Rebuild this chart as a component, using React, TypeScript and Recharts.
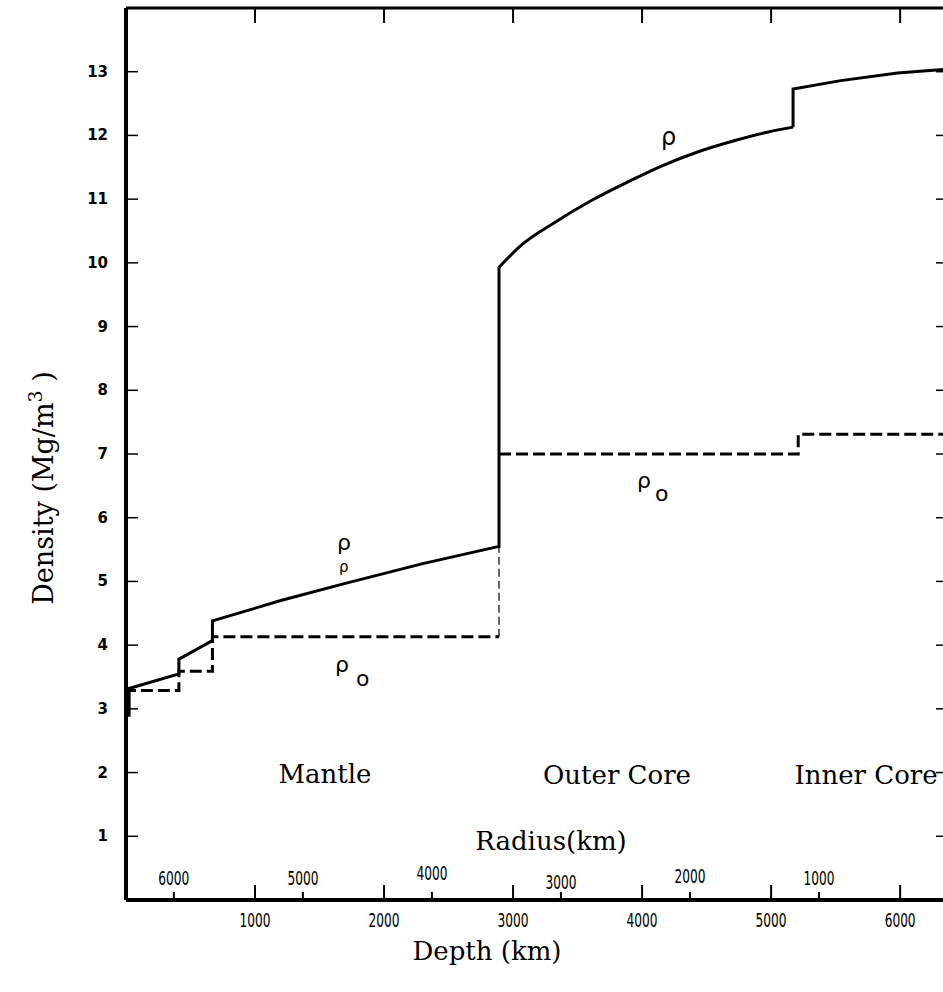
import React from 'react'
import { LineChart, Line, XAxis, YAxis, Customized } from 'recharts'

const EARTH_RADIUS = 6371
const depthTicks = [1000, 2000, 3000, 4000, 5000, 6000]
const radiusTicks = [6000, 5000, 4000, 3000, 2000, 1000]
const densityTicks = [1, 2, 3, 4, 5, 6, 7, 8, 9, 10, 11, 12, 13]

// rho (solid): density vs depth, Mg/m^3
const rhoMantle = [
   { x: 0, y: 2.9 },
   { x: 24, y: 2.9 },
   { x: 24, y: 3.32 },
   { x: 410, y: 3.55 },
   { x: 410, y: 3.78 },
   { x: 670, y: 4.07 },
   { x: 670, y: 4.38 },
   { x: 1200, y: 4.7 },
   { x: 1700, y: 4.97 },
   { x: 2300, y: 5.28 },
   { x: 2891, y: 5.55 },
   { x: 2891, y: 9.93 },
]
const rhoOuterCore = [
   { x: 2891, y: 9.93 },
   { x: 3060, y: 10.27 },
   { x: 3320, y: 10.63 },
   { x: 3600, y: 10.97 },
   { x: 3890, y: 11.27 },
   { x: 4150, y: 11.52 },
   { x: 4430, y: 11.74 },
   { x: 4720, y: 11.92 },
   { x: 4970, y: 12.05 },
   { x: 5170, y: 12.13 },
]
const rhoInnerCore = [
   { x: 5170, y: 12.13 },
   { x: 5170, y: 12.73 },
   { x: 5540, y: 12.86 },
   { x: 5980, y: 12.98 },
   { x: 6371, y: 13.04 },
]

// rho0 (dashed): zero-pressure density
const rho0Mantle = [
   { x: 20, y: 2.95 },
   { x: 20, y: 3.29 },
   { x: 410, y: 3.29 },
   { x: 410, y: 3.59 },
   { x: 670, y: 3.59 },
   { x: 670, y: 4.13 },
   { x: 2891, y: 4.13 },
]
const rho0Link = [
   { x: 2891, y: 4.13 },
   { x: 2891, y: 5.55 },
]
const rho0Core = [
   { x: 2891, y: 7.0 },
   { x: 5210, y: 7.0 },
   { x: 5210, y: 7.31 },
   { x: 6371, y: 7.31 },
]

const bottomTicks = [...depthTicks, ...radiusTicks.map((r) => EARTH_RADIUS - r)]
const radiusDy: Record<number, number> = { 4000: -5, 3000: 4, 2000: -2 }

const serif = 'DejaVu Serif'
const sans = 'DejaVu Sans'

const LeftTick = (props: any) => {
   const { x, y, payload } = props
   return (
      <g>
         <line x1={x} x2={x + 12} y1={y} y2={y} stroke="#000" strokeWidth={1.5} />
         <text x={x - 18} y={y + 5} textAnchor="end" fontFamily={sans} fontWeight="bold" fontSize={15} fill="#000">
            {payload.value}
         </text>
      </g>
   )
}

const RightTick = (props: any) => {
   const { x, y } = props
   return <line x1={x - 12} x2={x} y1={y} y2={y} stroke="#000" strokeWidth={1.5} />
}

const TopTick = (props: any) => {
   const { x, y } = props
   return <line x1={x} x2={x} y1={y} y2={y + 15} stroke="#000" strokeWidth={2} />
}

const BottomTick = (props: any) => {
   const { x, y, payload } = props
   const v = payload.value
   const label = { textAnchor: 'middle' as const, fontFamily: sans, fontSize: 20, textLength: 31, lengthAdjust: 'spacingAndGlyphs', fill: '#000' }
   if (depthTicks.includes(v)) {
      return (
         <g>
            <line x1={x} x2={x} y1={y} y2={y - 15} stroke="#000" strokeWidth={2} />
            <text x={x} y={y + 27} {...label}>{v}</text>
         </g>
      )
   }
   const r = EARTH_RADIUS - v
   return (
      <g>
         <line x1={x} x2={x} y1={y} y2={y - 8} stroke="#000" strokeWidth={2} />
         <text x={x} y={y - 15 + (radiusDy[r] || 0)} {...label}>{r}</text>
      </g>
   )
}

const Labels = () => (
   <g fill="#000">
      <g fontFamily={serif} fontSize={26}>
         <text x={325} y={783} textAnchor="middle">Mantle</text>
         <text x={617} y={784} textAnchor="middle">Outer Core</text>
         <text x={866} y={784} textAnchor="middle">Inner Core</text>
         <text x={551} y={850} textAnchor="middle">Radius(km)</text>
         <text x={487} y={960} textAnchor="middle">Depth (km)</text>
         <text x={53} y={488} textAnchor="middle" fontSize={27} transform="rotate(-90, 53, 488)">
            Density (Mg/m<tspan dy={-11} fontSize={19}>3</tspan>
            <tspan dy={11}> )</tspan>
         </text>
      </g>
      <g fontFamily={sans}>
         <text x={661} y={145} fontSize={24}>ρ</text>
         <text x={337} y={550} fontSize={22}>ρ</text>
         <text x={339} y={572} fontSize={15}>ρ</text>
         <text x={335} y={672} fontSize={22}>ρ</text>
         <text x={356} y={686} fontSize={22}>o</text>
         <text x={637} y={488} fontSize={22}>ρ</text>
         <text x={655} y={501} fontSize={22}>o</text>
      </g>
   </g>
)

const lineStyle = { stroke: '#000', dot: false, isAnimationActive: false, strokeLinejoin: 'miter' as const }

export default function App() {
   return (
      <div style={{ position: 'absolute', left: 0, top: 0, width: 943, height: 992, overflow: 'hidden', background: '#fff' }}>
         <LineChart width={960} height={992} margin={{ top: 7, right: 11, left: 0, bottom: 32 }}>
            <XAxis
               dataKey="x"
               type="number"
               domain={[0, EARTH_RADIUS]}
               ticks={bottomTicks}
               interval={0}
               height={60}
               tickSize={0}
               tickMargin={0}
               tickLine={false}
               tick={<BottomTick />}
               axisLine={{ stroke: '#000', strokeWidth: 4 }}
               allowDataOverflow
            />
            <XAxis
               xAxisId="top"
               orientation="top"
               dataKey="x"
               type="number"
               domain={[0, EARTH_RADIUS]}
               ticks={depthTicks}
               interval={0}
               height={1}
               tickSize={0}
               tickMargin={0}
               tickLine={false}
               tick={<TopTick />}
               axisLine={{ stroke: '#000', strokeWidth: 3 }}
               allowDataOverflow
            />
            <YAxis
               type="number"
               domain={[0, 14]}
               ticks={densityTicks}
               interval={0}
               width={126}
               tickSize={0}
               tickMargin={0}
               tickLine={false}
               tick={<LeftTick />}
               axisLine={{ stroke: '#000', strokeWidth: 4 }}
               allowDataOverflow
            />
            <YAxis
               yAxisId="right"
               orientation="right"
               type="number"
               domain={[0, 14]}
               ticks={densityTicks}
               interval={0}
               width={1}
               tickSize={0}
               tickMargin={0}
               tickLine={false}
               tick={<RightTick />}
               axisLine={{ stroke: '#000', strokeWidth: 3 }}
               allowDataOverflow
            />
            <Line data={rho0Link} xAxisId="top" yAxisId="right" dataKey="y" type="linear" strokeWidth={1.2} strokeDasharray="8 4" {...lineStyle} />
            <Line data={rho0Mantle} dataKey="y" type="linear" strokeWidth={3} strokeDasharray="12 5" {...lineStyle} />
            <Line data={rho0Core} dataKey="y" type="linear" strokeWidth={3} strokeDasharray="12 5" {...lineStyle} />
            <Line data={rhoMantle} dataKey="y" type="linear" strokeWidth={3} {...lineStyle} />
            <Line data={rhoOuterCore} dataKey="y" type="monotone" strokeWidth={3} {...lineStyle} />
            <Line data={rhoInnerCore} dataKey="y" type="linear" strokeWidth={3} {...lineStyle} />
            <Customized component={Labels} />
         </LineChart>
      </div>
   )
}
